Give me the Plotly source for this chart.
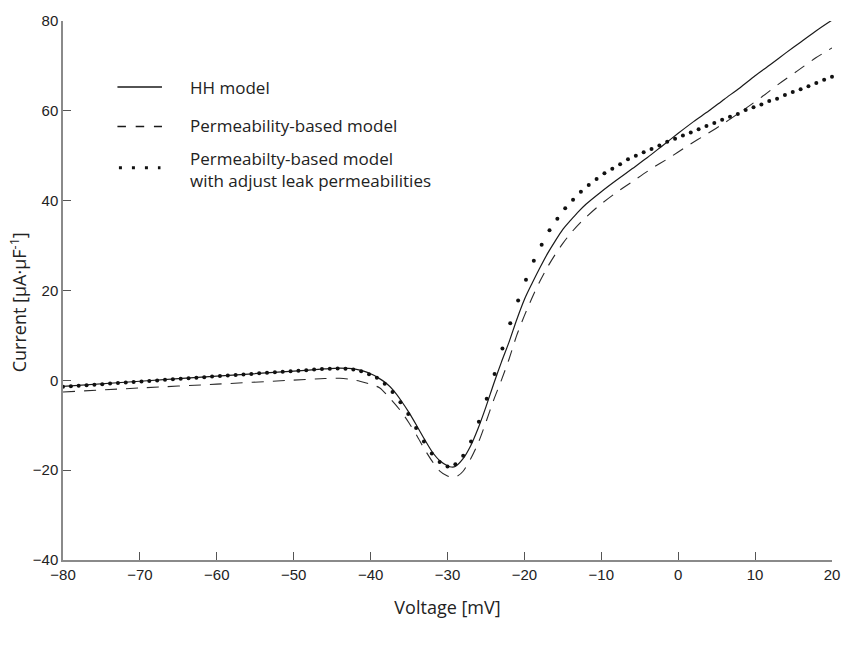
import numpy as np
import plotly.graph_objects as go

# ---- data ----
# HH model (solid)
hh_v = [-80, -70, -60, -50, -46, -44, -42, -41, -40, -39, -38, -37, -36, -35, -34, -33, -32, -31, -30,
        -29.5, -29, -28, -27, -26, -25, -24, -23, -22, -21, -20, -19, -18, -17, -16, -15, -14, -13, -12,
        -10, -8, -6, -4, -2, 0, 2, 4, 6, 8, 10, 12, 14, 16, 18, 20]
hh_i = [-1.35, -0.2, 0.95, 2.05, 2.55, 2.7, 2.5, 2.1, 1.45, 0.55, -0.6, -2.3, -4.6, -7.2, -10.1, -13.1, -15.9, -17.9, -19.0,
        -19.3, -19.2, -17.5, -14.6, -10.6, -5.9, -0.8, 4.0, 8.5, 13.5, 18.0, 21.6, 25.0, 28.2, 31.0, 33.6, 35.6, 37.5, 39.2,
        42.0, 44.6, 47.1, 49.6, 52.3, 55.0, 57.6, 60.0, 62.6, 65.1, 67.8, 70.3, 72.9, 75.4, 77.9, 80.2]

# Permeability-based model (dashed)
pb_v = [-80, -70, -60, -50, -46, -44, -42.6, -41.4, -39.6, -38.8, -37.5, -36, -35, -34, -33, -32, -31, -30,
        -29.3, -28.7, -28, -27, -26, -25, -24, -23, -22, -21, -20, -19, -18, -17, -16, -15, -14, -13, -12,
        -10.5, -8.3, -6, -3.6, -1.2, 1.3, 3.7, 6.1, 8.4, 10.8, 13.1, 15.5, 17.9, 20]
pb_i = [-2.6, -1.7, -0.85, 0.05, 0.4, 0.45, 0.2, -0.2, -1.1, -1.7, -4.0, -7.0, -9.5, -12.3, -15.3, -18.0, -20.2, -21.3,
        -21.6, -21.3, -20.3, -17.5, -13.9, -9.3, -4.4, 0.0, 4.7, 10.0, 14.4, 18.4, 22.0, 25.2, 28.0, 30.5, 32.7, 34.6, 36.3,
        38.6, 41.5, 44.2, 47.0, 49.5, 52.3, 54.8, 57.4, 60.1, 63.0, 66.0, 68.9, 71.8, 74.0]

# Permeability-based model with adjusted leak permeabilities (dotted, one dot per sample)
adj_i = [-1.45, -1.33, -1.21, -1.09, -0.97, -0.85, -0.73, -0.61, -0.49, -0.37,
         -0.25, -0.13, -0.01, 0.11, 0.23, 0.35, 0.47, 0.59, 0.71, 0.83,
         0.95, 1.07, 1.19, 1.31, 1.43, 1.55, 1.67, 1.79, 1.91, 2.03,
         2.15, 2.27, 2.39, 2.5, 2.6, 2.65, 2.6, 2.4, 2.0, 1.35,
         0.55, -0.77, -2.6, -4.9, -7.5, -10.6, -13.6, -16.3, -18.2, -19.2,
         -18.7, -16.8, -13.6, -9.2, -4.1, 1.4, 7.1, 12.7, 17.8, 22.4,
         26.6, 30.2, 33.4, 36.0, 38.3, 40.2, 42.0, 43.5, 44.8, 46.1,
         47.1, 48.1, 49.2, 50.0, 50.8, 51.5, 52.3, 53.1, 53.8, 54.5,
         55.2, 55.9, 56.6, 57.3, 58.0, 58.7, 59.3, 60.2, 60.8, 61.4,
         62.2, 62.7, 63.5, 64.2, 64.8, 65.5, 66.2, 66.9, 67.6]
adj_v = np.linspace(-80, 20, len(adj_i))  # evenly spaced voltage samples

x_ticks = [-80, -70, -60, -50, -40, -30, -20, -10, 0, 10, 20]
y_ticks = [-40, -20, 0, 20, 40, 60, 80]

legend_labels = ["HH model", "Permeability-based model",
                 "Permeabilty-based model<br>with adjust leak permeabilities"]
x_title = "Voltage [mV]"
y_title = "Current [µA·µF<sup>-1</sup>]"

TXT_FONT = "Open Sans"
TICK_FONT = "Liberation Sans, Arial, sans-serif"

fig = go.Figure()
fig.add_trace(go.Scatter(x=hh_v, y=hh_i, mode="lines", line=dict(color="#1a1a1a", width=1.2, shape="spline", smoothing=0.8),
                         name=legend_labels[0], showlegend=False))
fig.add_trace(go.Scatter(x=pb_v, y=pb_i, mode="lines", line=dict(color="#2a2a2a", width=1.1, dash="12px,9px", shape="spline", smoothing=0.8),
                         name=legend_labels[1], showlegend=False))
fig.add_trace(go.Scatter(x=adj_v, y=adj_i, mode="markers", marker=dict(color="#111111", size=4),
                         name=legend_labels[2], showlegend=False, cliponaxis=False))

# manual legend (top-left, inside the axes)
L = dict(l=63, r=12, t=13, b=88)
W, H = 852, 648
pw, ph = W - L["l"] - L["r"], H - L["t"] - L["b"]
def px_x(px):
    return (px - L["l"]) / pw
def px_y(py):
    return (H - L["b"] - py) / ph

shapes = [
    dict(type="line", xref="paper", yref="paper", x0=px_x(118), x1=px_x(163), y0=px_y(80), y1=px_y(80),
         line=dict(color="#1a1a1a", width=1.3)),
    dict(type="line", xref="paper", yref="paper", x0=px_x(118), x1=px_x(163), y0=px_y(120), y1=px_y(120),
         line=dict(color="#1a1a1a", width=1.6, dash="8.5px,9.75px")),
    dict(type="line", xref="paper", yref="paper", x0=px_x(119.5), x1=px_x(161.5), y0=px_y(162), y1=px_y(162),
         line=dict(color="#111111", width=3, dash="3px,10px")),
]
annotations = []
for lab, py in zip(legend_labels, [80, 119, 164]):
    annotations.append(dict(xref="paper", yref="paper", x=px_x(189), y=px_y(py), text=lab, showarrow=False,
                            xanchor="left", yanchor="middle", align="left",
                            font=dict(family=TXT_FONT, size=17, color="#222")))
# y axis title
annotations.append(dict(xref="paper", yref="paper", x=px_x(18), y=px_y(298), text=y_title, showarrow=False,
                        textangle=-90, xanchor="center", yanchor="middle",
                        font=dict(family=TXT_FONT, size=18, color="#222")))

fig.update_layout(
    width=W, height=H, margin=L, paper_bgcolor="white", plot_bgcolor="white",
    shapes=shapes, annotations=annotations, showlegend=False,
    xaxis=dict(range=[-80, 20], tickvals=x_ticks, ticks="inside", ticklen=8, tickcolor="#555", tickwidth=1,
               showline=True, linecolor="#8a8a8a", linewidth=1.5, showgrid=False, zeroline=False,
               tickfont=dict(family=TICK_FONT, size=15, color="#222"),
               title=dict(text=x_title, font=dict(family=TXT_FONT, size=18, color="#222"), standoff=20)),
    yaxis=dict(range=[-40, 80], tickvals=y_ticks, ticks="inside", ticklen=8, tickcolor="#555", tickwidth=1,
               showline=True, linecolor="#8a8a8a", linewidth=1.5, showgrid=False, zeroline=False,
               tickfont=dict(family=TICK_FONT, size=15, color="#222")),
)

fig.write_html("out.html")
